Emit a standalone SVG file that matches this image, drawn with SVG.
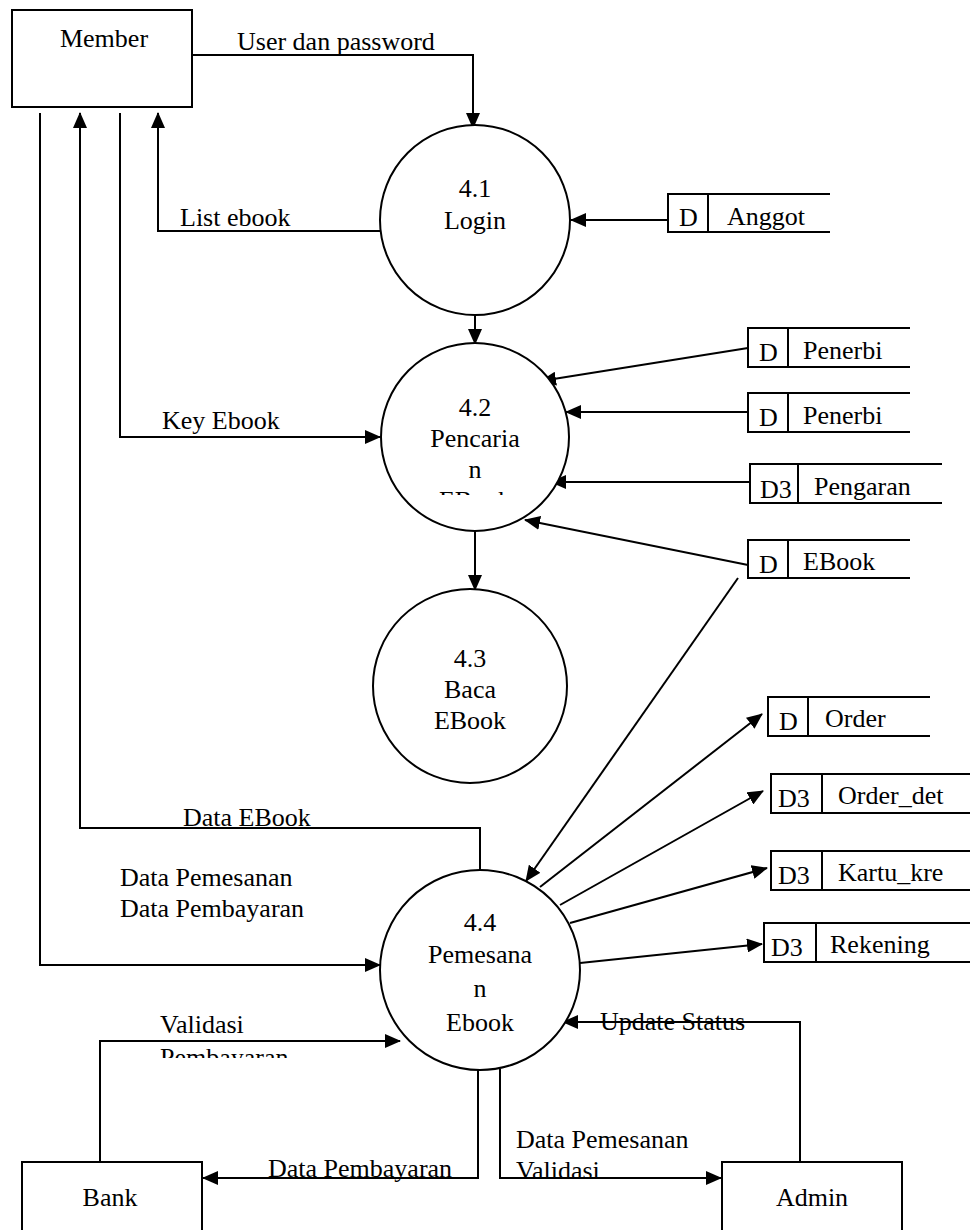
<svg xmlns="http://www.w3.org/2000/svg" width="970" height="1230" viewBox="0 0 970 1230" font-family="Liberation Serif, serif">
<style>
text{font-family:'Liberation Serif','Times New Roman','DejaVu Serif',serif;font-size:26px;fill:#000}
.c{text-anchor:middle}
.box,.proc{fill:#fff;stroke:#000;stroke-width:2}
.ds{fill:none;stroke:#000;stroke-width:2}
.ln{fill:none;stroke:#000;stroke-width:2}
.ar{marker-end:url(#ah)}
</style>
<defs>
<marker id="ah" markerUnits="userSpaceOnUse" markerWidth="16" markerHeight="14" refX="15" refY="7" orient="auto">
<path d="M0,0 L16,7 L0,14 Z" fill="#000"/>
</marker>
<clipPath id="cp42"><rect x="370" y="300" width="220" height="195"/></clipPath>
<clipPath id="cpVal"><rect x="150" y="1000" width="160" height="58"/></clipPath>
<clipPath id="cpUpd"><rect x="590" y="990" width="180" height="50"/></clipPath>
<clipPath id="cpBot"><rect x="500" y="1100" width="200" height="77"/></clipPath>
</defs>

<g id="connectors">
<polyline class="ln ar" points="192,55 473,55 473,128"/>
<polyline class="ln ar" points="380,231 158,231 158,113"/>
<line class="ln ar" x1="668" y1="220" x2="571" y2="220"/>
<line class="ln ar" x1="475" y1="315" x2="475" y2="344"/>
<polyline class="ln ar" points="120,113 120,437 380,437"/>
<line class="ln ar" x1="748" y1="348" x2="541" y2="381"/>
<line class="ln ar" x1="748" y1="412" x2="566" y2="412"/>
<line class="ln ar" x1="750" y1="482" x2="551" y2="482"/>
<line class="ln ar" x1="748" y1="565" x2="525" y2="520"/>
<line class="ln ar" x1="475" y1="531" x2="475" y2="590"/>
<polyline class="ln ar" points="480,869 480,828 80,828 80,113"/>
<polyline class="ln ar" points="40,113 40,965 380,965"/>
<line class="ln ar" x1="738" y1="578" x2="526" y2="881"/>
<line class="ln ar" x1="540" y1="887" x2="762" y2="714"/>
<line class="ln ar" x1="560" y1="905" x2="763" y2="791"/>
<line class="ln ar" x1="570" y1="923" x2="767" y2="868"/>
<line class="ln ar" x1="580" y1="963" x2="762" y2="944"/>
<polyline class="ln ar" points="100,1162 100,1041 400,1041"/>
<polyline class="ln ar" points="800,1162 800,1022 563,1022"/>
<polyline class="ln ar" points="478,1068 478,1178 203,1178"/>
<polyline class="ln ar" points="500,1069 500,1178 721,1178"/>
<text x="237" y="50">User dan password</text>
<text x="180" y="226">List ebook</text>
<text x="162" y="429">Key Ebook</text>
<text x="183" y="826">Data EBook</text>
<text x="120" y="886">Data Pemesanan</text>
<text x="120" y="917">Data Pembayaran</text>
<g clip-path="url(#cpVal)">
<text x="160" y="1033">Validasi</text>
<text x="160" y="1066">Pembayaran</text>
</g>
<g clip-path="url(#cpUpd)">
<text x="600" y="1030">Update Status</text>
<text x="600" y="1063">Pembayaran</text>
</g>
<text x="268" y="1177">Data Pembayaran</text>
<text x="516" y="1148">Data Pemesanan</text>
<g clip-path="url(#cpBot)">
<text x="516" y="1179">Validasi</text>
</g>
</g>

<g id="member">
<rect class="box" x="12" y="10" width="180" height="97"/>
<text class="c" x="104" y="47">Member</text>
</g>
<g id="bank">
<rect class="box" x="22" y="1162" width="180" height="80"/>
<text class="c" x="110" y="1206">Bank</text>
</g>
<g id="admin">
<rect class="box" x="722" y="1162" width="180" height="80"/>
<text class="c" x="812" y="1206">Admin</text>
</g>

<g id="p41">
<circle class="proc" cx="475" cy="220" r="95"/>
<text class="c" x="475" y="197">4.1</text>
<text class="c" x="475" y="229">Login</text>
</g>
<g id="p42">
<circle class="proc" cx="475" cy="437" r="94"/>
<g clip-path="url(#cp42)">
<text class="c" x="475" y="416">4.2</text>
<text class="c" x="475" y="447">Pencaria</text>
<text class="c" x="475" y="478">n</text>
<text class="c" x="475" y="509">EBook</text>
</g>
</g>
<g id="p43">
<circle class="proc" cx="470" cy="686" r="97"/>
<text class="c" x="470" y="667">4.3</text>
<text class="c" x="470" y="698">Baca</text>
<text class="c" x="470" y="729">EBook</text>
</g>
<g id="p44">
<circle class="proc" cx="480" cy="970" r="100"/>
<text class="c" x="480" y="931">4.4</text>
<text class="c" x="480" y="963">Pemesana</text>
<text class="c" x="480" y="997">n</text>
<text class="c" x="480" y="1031">Ebook</text>
</g>

<g id="ds-anggota">
<path class="ds" d="M830,194 H668 V232 H830 M708,194 V232"/>
<text x="679" y="226">D</text>
<text x="727" y="225">Anggot</text>
</g>
<g id="ds-penerbit1">
<path class="ds" d="M910,328 H748 V367 H910 M788,328 V367"/>
<text x="759" y="361">D</text>
<text x="803" y="359">Penerbi</text>
</g>
<g id="ds-penerbit2">
<path class="ds" d="M910,393 H748 V432 H910 M788,393 V432"/>
<text x="759" y="426">D</text>
<text x="803" y="424">Penerbi</text>
</g>
<g id="ds-pengarang">
<path class="ds" d="M942,464 H750 V503 H942 M798,464 V503"/>
<text x="760" y="498">D3</text>
<text x="814" y="495">Pengaran</text>
</g>
<g id="ds-ebook">
<path class="ds" d="M910,540 H748 V578 H910 M788,540 V578"/>
<text x="759" y="573">D</text>
<text x="803" y="570">EBook</text>
</g>
<g id="ds-order">
<path class="ds" d="M930,697 H768 V736 H930 M808,697 V736"/>
<text x="779" y="730">D</text>
<text x="825" y="727">Order</text>
</g>
<g id="ds-orderdetail">
<path class="ds" d="M970,774 H771 V813 H970 M822,774 V813"/>
<text x="778" y="807">D3</text>
<text x="838" y="804">Order_det</text>
</g>
<g id="ds-kartukredit">
<path class="ds" d="M970,851 H771 V890 H970 M822,851 V890"/>
<text x="778" y="884">D3</text>
<text x="838" y="881">Kartu_kre</text>
</g>
<g id="ds-rekening">
<path class="ds" d="M970,923 H764 V962 H970 M816,923 V962"/>
<text x="771" y="956">D3</text>
<text x="830" y="953">Rekening</text>
</g>
</svg>
